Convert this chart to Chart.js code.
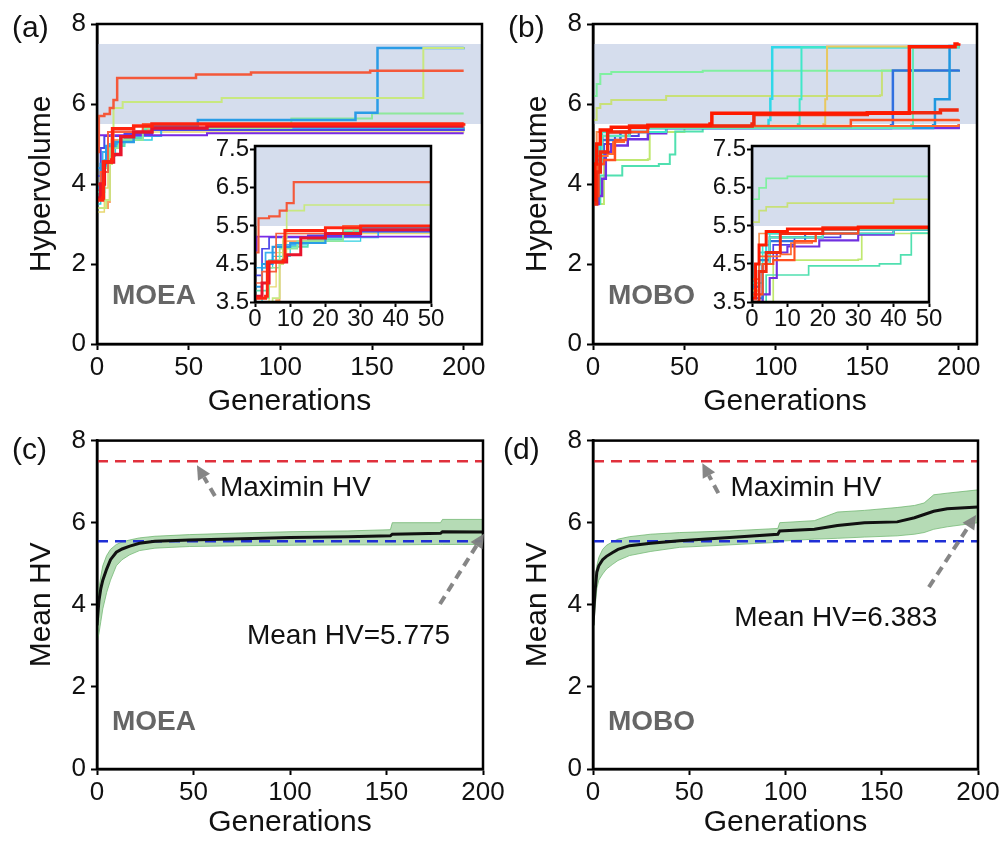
<!DOCTYPE html>
<html>
<head>
<meta charset="utf-8">
<script src="https://cdn.jsdelivr.net/npm/chart.js@4.4.1/dist/chart.umd.min.js"></script>
<style>
  body { margin: 0; background: #fff; font-family: "Liberation Sans", Arial, sans-serif; }
  #page { position: relative; width: 1002px; height: 841px; overflow: hidden; }
  canvas { position: absolute; }
  .tag { position: absolute; font-size: 30px; line-height: 1; color: #111; }
  .alg { position: absolute; font-size: 28px; line-height: 1; font-weight: bold; color: #666; }
</style>
</head>
<body>
<div id="page">
  <canvas id="cA" width="500" height="420" style="left:0;top:0"></canvas>
  <canvas id="cB" width="502" height="420" style="left:500px;top:0"></canvas>
  <canvas id="cC" width="510" height="421" style="left:0;top:420px"></canvas>
  <canvas id="cD" width="502" height="421" style="left:500px;top:420px"></canvas>
  <canvas id="iA" width="250" height="205" style="left:200px;top:130px"></canvas>
  <canvas id="iB" width="250" height="205" style="left:697px;top:130px"></canvas>
  <div class="tag" style="left:12px;top:12px">(a)</div>
  <div class="tag" style="left:508px;top:12px">(b)</div>
  <div class="tag" style="left:12px;top:434px">(c)</div>
  <div class="tag" style="left:503px;top:434px">(d)</div>
  <div class="alg" style="left:112px;top:281px">MOEA</div>
  <div class="alg" style="left:608px;top:281px">MOBO</div>
  <div class="alg" style="left:112px;top:707px">MOEA</div>
  <div class="alg" style="left:608px;top:707px">MOBO</div>
</div>
<script>
// tick labels
const mainXTicks = [0, 50, 100, 150, 200];
const mainYTicks = [0, 2, 4, 6, 8];
const insetXTicks = [0, 10, 20, 30, 40, 50];
const insetYTicks = [3.5, 4.5, 5.5, 6.5, 7.5];

// shaded target region and reference levels
const bandLow = 5.5;
const bandHigh = 7.5;
const maximinHV = 7.5;
const baseHV = 5.55;

// MOEA runs: [generation, hypervolume] at every step
const moeaRedA = [[0,3.6],[3,3.65],[3.5,4.55],[8,4.6],[8.5,5.38],[20,5.45],[30,5.5],[200,5.52]];
const moeaRedB = [[0,3.65],[2,4.0],[4,4.55],[9,4.74],[13,5.18],[20,5.3],[30,5.4],[60,5.45],[200,5.45]];
const moeaVermilion = [[0,4.0],[2,4.3],[6,5.3],[25,5.5],[200,5.53]];
const moeaOrangeRed = [[0,4.8],[1,5.7],[4,5.75],[7,5.9],[9,6.1],[11,6.65],[54,6.74],[84,6.79],[149,6.83],[200,6.83]];
const moeaYellowGreen = [[0,3.4],[5,3.6],[7,4.5],[8,5.2],[9,5.9],[14,6.05],[68,6.15],[178,7.4],[200,7.42]];
const moeaBlue = [[0,3.9],[2,4.5],[5,4.95],[10,5.05],[20,5.3],[30,5.45],[55,5.6],[141,5.78],[153,7.4],[200,7.42]];
const moeaLightGreen = [[0,3.6],[4,4.4],[7,4.9],[12,5.1],[25,5.4],[106,5.64],[150,5.76],[200,5.76]];
const moeaPurple = [[0,4.85],[0.5,5.22],[60,5.27],[200,5.27]];
const moeaViolet = [[0,4.2],[2,4.9],[4,5.2],[15,5.25],[30,5.35],[200,5.38]];
const moeaSky = [[0,4.4],[3,4.8],[6,5.0],[12,5.05],[20,5.2],[35,5.4],[200,5.42]];
const moeaOrange = [[0,3.4],[6,3.55],[7,4.5],[8,5.1],[20,5.25],[28,5.4],[200,5.48]];
const moeaTeal = [[0,3.8],[4,4.6],[8,4.95],[15,5.15],[25,5.35],[200,5.45]];
const moeaCyan = [[0,3.5],[2,4.4],[5,4.7],[10,5.0],[15,5.1],[30,5.35],[200,5.42]];
const moeaYellow = [[0,3.3],[4,3.9],[6,4.8],[9,5.3],[200,5.4]];

// MOBO runs
const moboRed1 = [[0,3.6],[1,4.5],[2,5.0],[4,5.35],[10,5.42],[30,5.47],[64,5.5],[65,5.77],[172,5.77],[173,7.43],[198,7.5],[200,7.52]];
const moboRed2 = [[0,3.5],[2,4.3],[4,4.8],[8,5.3],[20,5.45],[87,5.5],[88,5.74],[150,5.78],[190,5.85],[200,5.85]];
const moboRed3 = [[0,3.7],[3,4.5],[6,4.6],[12,5.1],[18,5.3],[30,5.45],[141,5.6],[200,5.62]];
const moboRedOrange = [[0,4.1],[2,4.7],[8,4.75],[11,5.05],[17,5.1],[18,5.3],[30,5.45],[200,5.5]];
const moboMint = [[0,3.7],[2,4.5],[5,5.2],[20,5.4],[174,5.48],[175,7.43],[200,7.48]];
const moboAzure = [[0,3.9],[2,4.6],[5,5.2],[20,5.4],[186,5.47],[187,6.12],[195,7.45],[200,7.47]];
const moboBlue = [[0,3.6],[3,4.5],[5,5.1],[15,5.3],[30,5.4],[163,5.47],[164,6.84],[200,6.86]];
const moboGold = [[0,3.8],[2,4.6],[5,5.2],[20,5.4],[126,5.5],[127,6.12],[128,7.44],[200,7.48]];
const moboTurquoise = [[0,4.0],[3,5.0],[5,5.3],[40,5.45],[112,5.5],[113,6.12],[114,7.42],[200,7.46]];
const moboCyan = [[0,3.9],[2,4.8],[4,5.3],[30,5.45],[96,5.6],[97,6.13],[98,7.42],[200,7.45]];
const moboLightGreen = [[0,6.2],[2,6.5],[4,6.75],[10,6.8],[60,6.83],[200,6.86]];
const moboYellowGreen = [[0,5.6],[2,5.9],[4,6.0],[10,6.1],[40,6.2],[157,6.22],[158,6.84],[200,6.86]];
const moboPurple = [[0,3.5],[3,3.7],[5,4.13],[7,4.8],[10,4.96],[19,5.12],[30,5.27],[40,5.4],[200,5.47]];
const moboViolet = [[0,3.5],[3,4.5],[6,5.0],[12,5.2],[25,5.3],[40,5.45],[200,5.5]];
const moboTealSlow = [[0,3.5],[4,4.21],[16,4.45],[36,4.5],[42,4.74],[45,5.31],[60,5.45],[200,5.48]];
const moboLimeSlow = [[0,3.5],[6,4.6],[30,4.62],[31,5.3],[50,5.45],[200,5.5]];
const moboOrange = [[0,3.8],[2,5.3],[40,5.45],[200,5.48]];

// mean HV with spread, panel (c)
const moeaGen = [0, 1, 2, 3, 5, 7, 10, 13, 17, 22, 30, 48, 75, 100, 130, 152, 153, 178, 179, 200];
const moeaMean = [3.5, 4.1, 4.4, 4.6, 4.87, 5.1, 5.28, 5.36, 5.43, 5.5, 5.55, 5.58, 5.61, 5.64, 5.66, 5.68, 5.72, 5.74, 5.78, 5.775];
const moeaUpper = [3.7, 4.4, 4.7, 4.95, 5.2, 5.35, 5.47, 5.53, 5.58, 5.63, 5.67, 5.71, 5.75, 5.78, 5.8, 5.83, 6.0, 6.0, 6.08, 6.08];
const moeaLower = [3.1, 3.3, 3.6, 3.9, 4.3, 4.6, 4.95, 5.1, 5.22, 5.32, 5.38, 5.42, 5.44, 5.45, 5.46, 5.46, 5.46, 5.47, 5.47, 5.47];

// mean HV with spread, panel (d)
const moboGen = [0, 1, 2, 3, 5, 7, 10, 13, 19, 30, 45, 71, 96, 97, 115, 127, 141, 158, 167, 172, 177, 184, 200];
const moboMean = [3.5, 4.3, 4.8, 4.95, 5.1, 5.18, 5.27, 5.35, 5.44, 5.5, 5.56, 5.64, 5.72, 5.8, 5.84, 5.93, 6.0, 6.02, 6.12, 6.2, 6.28, 6.34, 6.383];
const moboUpper = [3.9, 4.63, 4.95, 5.15, 5.35, 5.45, 5.53, 5.6, 5.66, 5.72, 5.76, 5.8, 5.86, 6.0, 6.05, 6.26, 6.3, 6.37, 6.42, 6.48, 6.68, 6.72, 6.8];
const moboLower = [3.2, 3.9, 4.4, 4.6, 4.75, 4.87, 4.98, 5.08, 5.2, 5.3, 5.4, 5.46, 5.52, 5.55, 5.6, 5.62, 5.65, 5.68, 5.72, 5.76, 5.84, 5.9, 6.0];

// runs listed top-most first, with their styles
const moeaRuns = [moeaRedA, moeaRedB, moeaVermilion, moeaOrangeRed, moeaYellowGreen, moeaBlue, moeaLightGreen,
  moeaPurple, moeaViolet, moeaSky, moeaOrange, moeaTeal, moeaCyan, moeaYellow];
const moeaColors = ['#ff2410', '#e8142c', '#f86040', '#f4583a', '#c8e880', '#2a9ce6', '#8ee89c',
  '#7a2ae6', '#4a46e8', '#3ab0f0', '#f8a060', '#5ae0b4', '#2ed0e0', '#e8d870'];
const moeaWidths = [3.5, 3.5, 2, 2.5, 2, 2.5, 2, 2, 2, 2, 2, 2, 1.5, 1.5];

const moboRuns = [moboRed1, moboRed2, moboRed3, moboRedOrange, moboMint, moboAzure, moboBlue, moboGold,
  moboTurquoise, moboCyan, moboLightGreen, moboYellowGreen, moboPurple, moboViolet, moboTealSlow, moboLimeSlow, moboOrange];
const moboColors = ['#ff1a00', '#f02a10', '#ff5020', '#ff6a30', '#60e8b8', '#2098e0', '#3070e0', '#e8c860',
  '#40e8c8', '#30d8e8', '#80f0a0', '#c8e078', '#7030e0', '#5040e8', '#50e0b0', '#c0e870', '#f89050'];
const moboWidths = [3.5, 3.5, 2.5, 2, 2, 2.5, 2.5, 2, 2, 2.5, 2, 2, 2.5, 2, 2, 2, 2];

const FONT = '"Liberation Sans", Arial, sans-serif';
Chart.defaults.font.family = FONT;
Chart.defaults.color = '#111';
Chart.defaults.animation = false;
Chart.defaults.plugins.legend.display = false;
Chart.defaults.plugins.tooltip.enabled = false;

// box around the plotting area (and white ground for the insets)
const frame = {
  id: 'frame',
  beforeDraw(chart, args, opts) {
    if (!opts.white) return;
    const a = chart.chartArea;
    chart.ctx.save();
    chart.ctx.fillStyle = '#fff';
    chart.ctx.fillRect(a.left, a.top, a.width, a.height);
    chart.ctx.restore();
  },
  afterDraw(chart, args, opts) {
    const { ctx, chartArea: a } = chart;
    ctx.save();
    ctx.strokeStyle = '#000';
    ctx.lineWidth = opts.width || 2;
    ctx.strokeRect(a.left, a.top, a.width, a.height);
    ctx.restore();
  }
};

function arrow(ctx, x1, y1, x2, y2) {
  const ang = Math.atan2(y2 - y1, x2 - x1);
  const hl = 14, hw = 7;
  const bx = x2 - hl * Math.cos(ang), by = y2 - hl * Math.sin(ang);
  ctx.strokeStyle = 'rgba(128,128,128,0.95)';
  ctx.fillStyle = 'rgba(128,128,128,0.95)';
  ctx.lineWidth = 4;
  ctx.setLineDash([9, 6]);
  ctx.beginPath(); ctx.moveTo(x1, y1); ctx.lineTo(bx, by); ctx.stroke();
  ctx.setLineDash([]);
  ctx.beginPath();
  ctx.moveTo(x2, y2);
  ctx.lineTo(bx + hw * Math.sin(ang), by - hw * Math.cos(ang));
  ctx.lineTo(bx - hw * Math.sin(ang), by + hw * Math.cos(ang));
  ctx.closePath(); ctx.fill();
}

// text and arrows placed in data units
const notes = {
  id: 'notes',
  afterDraw(chart, args, opts) {
    if (!opts.items) return;
    const { ctx, scales: { x, y } } = chart;
    ctx.save();
    opts.items.forEach(n => {
      if (n.text) {
        ctx.font = '28px ' + FONT;
        ctx.fillStyle = '#111';
        ctx.textBaseline = 'middle';
        ctx.textAlign = 'left';
        ctx.fillText(n.text, x.getPixelForValue(n.x), y.getPixelForValue(n.y));
      } else {
        arrow(ctx, x.getPixelForValue(n.x1), y.getPixelForValue(n.y1), x.getPixelForValue(n.x2), y.getPixelForValue(n.y2));
      }
    });
    ctx.restore();
  }
};

function axes(o) {
  return {
    x: {
      type: 'linear', min: o.xMin, max: o.xMax,
      afterBuildTicks: s => { s.ticks = o.xTicks.map(v => ({ value: v })); },
      ticks: { font: { size: o.tick, lineHeight: o.tickLH }, padding: o.xPad, maxRotation: 0, autoSkip: false, color: '#111', callback: v => String(v) },
      grid: { drawOnChartArea: false, tickLength: o.tl, tickWidth: 2, tickColor: '#000' },
      border: { color: '#000', width: 2.5 },
      title: { display: !!o.xTitle, text: o.xTitle, font: { size: 30 }, color: '#111', padding: { top: 0, bottom: 0 } },
      afterFit: s => { s.height = o.xH; }
    },
    y: {
      type: 'linear', min: o.yMin, max: o.yMax,
      afterBuildTicks: s => { s.ticks = o.yTicks.map(v => ({ value: v })); },
      ticks: { font: { size: o.tick, lineHeight: o.tickLH }, padding: o.yPad, color: '#111', callback: v => String(v) },
      grid: { drawOnChartArea: false, tickLength: o.tl, tickWidth: 2, tickColor: '#000' },
      border: { color: '#000', width: 2.5 },
      title: { display: !!o.yTitle, text: o.yTitle, font: { size: 30 }, color: '#111', padding: { top: o.yTitlePad, bottom: 0 } },
      afterFit: s => { s.width = o.yW; }
    }
  };
}

function runSets(runs, colors, widths, scale) {
  return runs.map((r, i) => ({
    data: r.map(p => ({ x: p[0], y: p[1] })),
    borderColor: colors[i],
    borderWidth: widths[i] * scale,
    stepped: true,
    pointRadius: 0,
    fill: false
  }));
}

function bandSets(x0, x1, inset) {
  const shade = 'rgba(190,203,228,0.65)';
  if (inset) {
    return [{ data: [{ x: x0, y: bandLow }, { x: x1, y: bandLow }], borderWidth: 0, pointRadius: 0, fill: 'end', backgroundColor: shade, order: 100 }];
  }
  return [
    { data: [{ x: x0, y: bandLow }, { x: x1, y: bandLow }], borderWidth: 0, pointRadius: 0, fill: false, order: 101 },
    { data: [{ x: x0, y: bandHigh }, { x: x1, y: bandHigh }], borderWidth: 0, pointRadius: 0, fill: '-1', backgroundColor: shade, order: 100 }
  ];
}

function runChart(id, runs, colors, widths, o) {
  const bands = bandSets(o.xMin, o.xMax, o.inset);
  const lines = runSets(runs, colors, widths, o.inset ? 0.85 : 1);
  new Chart(document.getElementById(id), {
    type: 'line',
    data: { datasets: bands.concat(lines) },
    options: {
      responsive: false,
      layout: { padding: o.pad },
      scales: axes(o),
      plugins: { frame: { white: !!o.inset, width: 2.5 } }
    },
    plugins: [frame]
  });
}

function meanChart(id, gen, mean, upper, lower, o) {
  const pts = arr => arr.map((v, i) => ({ x: gen[i], y: v }));
  new Chart(document.getElementById(id), {
    type: 'line',
    data: {
      datasets: [
        { data: pts(mean), borderColor: '#111', borderWidth: 3, pointRadius: 0, fill: false, order: 0 },
        { data: [{ x: 0, y: maximinHV }, { x: 200, y: maximinHV }], borderColor: '#e0303c', borderWidth: 2.5, borderDash: [11, 7], pointRadius: 0, fill: false, order: 1 },
        { data: [{ x: 0, y: baseHV }, { x: 200, y: baseHV }], borderColor: '#1f2fd6', borderWidth: 2.5, borderDash: [11, 7], pointRadius: 0, fill: false, order: 1 },
        { data: pts(lower), borderColor: 'rgba(100,175,100,0.7)', borderWidth: 1, pointRadius: 0, fill: false, order: 6 },
        { data: pts(upper), borderColor: 'rgba(100,175,100,0.7)', borderWidth: 1, pointRadius: 0, fill: '-1', backgroundColor: 'rgba(120,190,120,0.55)', order: 5 }
      ]
    },
    options: {
      responsive: false,
      layout: { padding: o.pad },
      scales: axes(o),
      plugins: { frame: { width: 2.5 }, notes: { items: o.notes } }
    },
    plugins: [frame, notes]
  });
}

const mainOpts = { xMin: 0, yMin: 0, yMax: 8, xTicks: mainXTicks, yTicks: mainYTicks, tick: 26, tickLH: 1.2, tl: 6, xPad: 2, yPad: 5,
  xTitle: 'Generations' };
const insetOpts = { xMin: 0, xMax: 50, yMin: 3.5, yMax: 7.6, xTicks: insetXTicks, yTicks: insetYTicks, tick: 24, tickLH: 1.0, tl: 5, xPad: 0, yPad: 1,
  inset: true, xH: 33, yW: 55 };

runChart('cA', moeaRuns, moeaColors, moeaWidths, Object.assign({}, mainOpts, {
  xMax: 210, yTitle: 'Hypervolume', yTitlePad: 24, yW: 97, xH: 76, pad: { left: 0, top: 24, right: 18, bottom: 0 } }));
runChart('cB', moboRuns, moboColors, moboWidths, Object.assign({}, mainOpts, {
  xMax: 210, yTitle: 'Hypervolume', yTitlePad: 20, yW: 93, xH: 76, pad: { left: 0, top: 24, right: 25, bottom: 0 } }));
runChart('iA', moeaRuns, moeaColors, moeaWidths, Object.assign({}, insetOpts, { pad: { left: 0, top: 16, right: 19, bottom: 0 } }));
runChart('iB', moboRuns, moboColors, moboWidths, Object.assign({}, insetOpts, { pad: { left: 0, top: 16, right: 18, bottom: 0 } }));

meanChart('cC', moeaGen, moeaMean, moeaUpper, moeaLower, Object.assign({}, mainOpts, {
  xMax: 200, yTitle: 'Mean HV', yTitlePad: 24, yW: 97, xH: 72, pad: { left: 0, top: 17, right: 27, bottom: 0 },
  notes: [
    { text: 'Maximin HV', x: 63.7, y: 6.84 },
    { x1: 61.1, y1: 6.65, x2: 51.8, y2: 7.4 },
    { text: 'Mean HV=5.775', x: 77.7, y: 3.23 },
    { x1: 177.7, y1: 4.02, x2: 200.5, y2: 5.73 }
  ] }));
meanChart('cD', moboGen, moboMean, moboUpper, moboLower, Object.assign({}, mainOpts, {
  xMax: 200, yTitle: 'Mean HV', yTitlePad: 20, yW: 93, xH: 72, pad: { left: 0, top: 17, right: 24, bottom: 0 },
  notes: [
    { text: 'Maximin HV', x: 71.4, y: 6.84 },
    { x1: 65.1, y1: 6.72, x2: 56.8, y2: 7.45 },
    { text: 'Mean HV=6.383', x: 73.4, y: 3.66 },
    { x1: 174.5, y1: 4.43, x2: 199, y2: 6.19 }
  ] }));
</script>
</body>
</html>
